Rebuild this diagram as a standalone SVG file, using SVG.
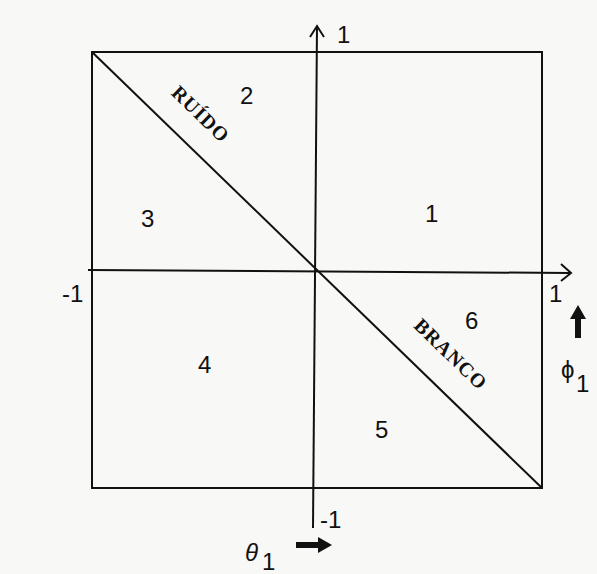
<svg xmlns="http://www.w3.org/2000/svg" width="597" height="574" viewBox="0 0 597 574">
<style>
.ln{stroke:#111;stroke-width:2;fill:none}
.t{font-family:"Liberation Sans",Arial,sans-serif;font-size:24px;fill:#111}
.lbl{font-family:"Liberation Serif","Times New Roman",serif;font-weight:bold;font-size:20px;fill:#111;letter-spacing:1px}
</style>
<rect width="597" height="574" fill="#f8f8f6"/>
<g id="connectors">
<rect id="box" x="92" y="52" width="450" height="436" class="ln"/>
<line x1="92" y1="52" x2="542" y2="488" class="ln" stroke-width="1.6"/>
<line x1="317" y1="26" x2="313" y2="528" class="ln"/>
<polyline points="310,37 317,26 324,37" class="ln" stroke-width="1.6"/>
<line x1="88" y1="270" x2="570" y2="273" class="ln"/>
<polyline points="561,264 571,273 561,281" class="ln" stroke-width="1.6"/>
</g>
<g id="labels">
<text class="t" x="337" y="43">1</text>
<text class="t" x="549" y="302">1</text>
<text class="t" x="62" y="302">-1</text>
<text class="t" x="320" y="528">-1</text>
<text class="t" x="240" y="104">2</text>
<text class="t" x="141" y="227">3</text>
<text class="t" x="425" y="222">1</text>
<text class="t" x="465" y="329">6</text>
<text class="t" x="198" y="373">4</text>
<text class="t" x="375" y="438">5</text>
<text class="lbl" transform="translate(196,119) rotate(44)" text-anchor="middle">RUÍDO</text>
<text class="lbl" transform="translate(446,359) rotate(44)" text-anchor="middle">BRANCO</text>
</g>
<g id="phi">
<path d="M575,338 V319 H570 L578,305 L586,319 H581 V338 Z" fill="#111"/>
<text class="t" x="561" y="378">ϕ</text>
<text class="t" x="576" y="392" font-size="20">1</text>
</g>
<g id="theta">
<path d="M296,542 H318 V537 L332,545 L318,553 V548 H296 Z" fill="#111"/>
<text class="t" x="245" y="561" font-style="italic">θ</text>
<text class="t" x="262" y="570" font-size="20">1</text>
</g>
</svg>
